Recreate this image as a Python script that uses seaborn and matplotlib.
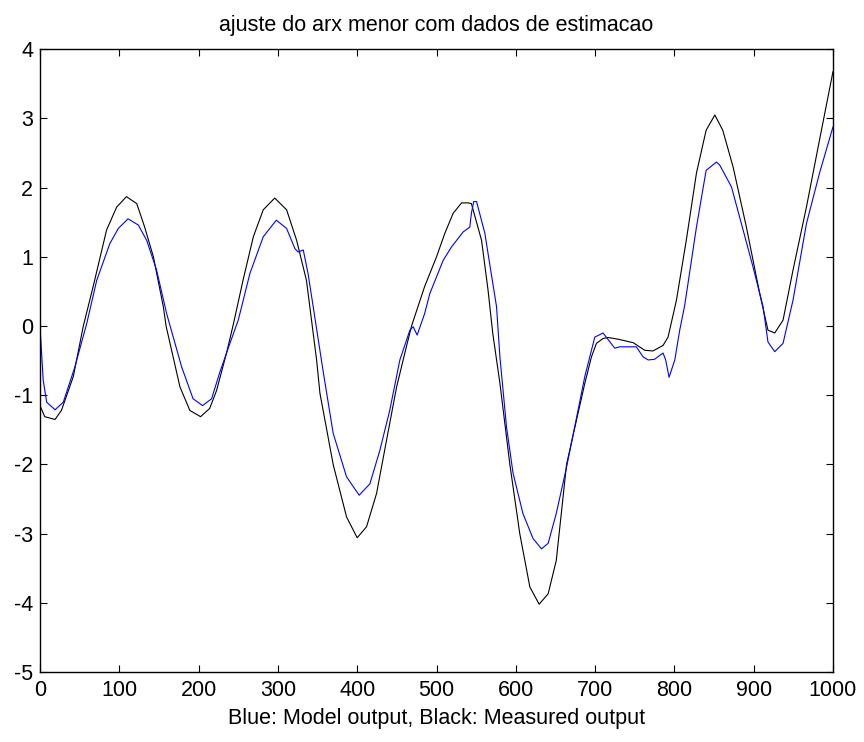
import matplotlib
matplotlib.use("Agg")
import matplotlib.pyplot as plt
import seaborn as sns
import pandas as pd

title = "ajuste do arx menor com dados de estimacao"
xlabel = "Blue: Model output, Black: Measured output"
xticks = [0, 100, 200, 300, 400, 500, 600, 700, 800, 900, 1000]
yticks = [-5, -4, -3, -2, -1, 0, 1, 2, 3, 4]

# Measured output (black)
meas_x = [0, 6, 19, 27, 42, 54.6, 67, 84, 96.7, 109, 122, 132, 143, 155.5, 159,
          176.5, 189, 202.5, 214, 222.7, 235, 243.7, 256, 269, 281.5, 296, 311,
          323.6, 336, 348.8, 353, 369.7, 386.6, 400, 411.8, 424.4, 437, 449.7,
          462, 468.5, 485, 500, 510.5, 521, 531.6, 540, 544, 556.8, 565, 571,
          580, 592.5, 605, 617.7, 629.4, 640.8, 651, 664, 676.5, 687, 695.4,
          701.7, 710, 716.4, 729, 748, 762.6, 773, 785.7, 792, 802.6, 815,
          827.8, 840, 851, 861, 874, 890.8, 907.6, 918, 926.5, 937, 949.6,
          966.5, 983, 1000]
meas_y = [-1.15, -1.31, -1.35, -1.22, -0.73, 0.0, 0.57, 1.39, 1.72, 1.87, 1.77,
          1.43, 1.0, 0.28, 0.0, -0.88, -1.22, -1.31, -1.19, -0.93, -0.40, 0.02,
          0.66, 1.29, 1.68, 1.85, 1.68, 1.24, 0.66, -0.49, -0.97, -2.0, -2.76,
          -3.06, -2.90, -2.42, -1.65, -0.88, -0.30, 0.0, 0.57, 1.0, 1.34, 1.63,
          1.78, 1.78, 1.77, 1.24, 0.52, -0.11, -0.83, -2.0, -3.0, -3.77, -4.02,
          -3.87, -3.39, -2.0, -1.36, -0.83, -0.445, -0.25, -0.18, -0.165, -0.19,
          -0.24, -0.35, -0.36, -0.28, -0.16, 0.375, 1.24, 2.21, 2.83, 3.05,
          2.83, 2.30, 1.43, 0.47, -0.06, -0.10, 0.085, 0.81, 1.72, 2.69, 3.68]

# Model output (blue)
model_x = [0, 4, 8.4, 19, 29.4, 44, 59, 71.5, 88, 98.7, 111, 124, 134.5, 147,
           159.7, 178.6, 193, 205, 216.4, 227, 239.5, 250, 264.7, 281.5, 298,
           311, 321.4, 325.6, 332, 338, 344.5, 357, 369.7, 386.6, 402.5, 416,
           428.6, 441, 453.8, 466.4, 470.6, 475.6, 485, 491.6, 508.4, 519,
           533.6, 542, 544, 547, 550.5, 561, 569, 575.7, 580, 588.3, 596.6,
           609, 621.7, 632.4, 640.8, 651, 664, 676.5, 687, 699.6, 710, 724.8,
           731, 752, 760.5, 767, 775, 785.7, 789, 793.3, 800.5, 806.7, 813,
           827.8, 840, 853, 857, 872, 886.6, 899, 911.8, 918, 926.5, 937,
           949.6, 966.5, 983, 1000]
model_y = [0.0, -0.78, -1.10, -1.21, -1.10, -0.59, 0.04, 0.66, 1.19, 1.41, 1.55,
           1.46, 1.24, 0.81, 0.18, -0.59, -1.05, -1.15, -1.05, -0.66, -0.25,
           0.085, 0.76, 1.29, 1.53, 1.41, 1.12, 1.07, 1.10, 0.76, 0.28, -0.65,
           -1.55, -2.18, -2.445, -2.28, -1.795, -1.22, -0.49, -0.06, -0.01,
           -0.13, 0.18, 0.47, 0.95, 1.145, 1.36, 1.43, 1.63, 1.80, 1.80, 1.34,
           0.76, 0.28, -0.45, -1.46, -2.13, -2.71, -3.07, -3.22, -3.14, -2.71,
           -2.04, -1.33, -0.73, -0.16, -0.10, -0.32, -0.30, -0.30, -0.445,
           -0.49, -0.48, -0.39, -0.49, -0.74, -0.49, -0.06, 0.30, 1.43, 2.25,
           2.37, 2.33, 2.01, 1.39, 0.86, 0.28, -0.23, -0.37, -0.25, 0.375,
           1.48, 2.21, 2.88]

sns.set_style("white")
plt.rcParams['font.family'] = ['Liberation Sans', 'DejaVu Sans']
plt.rcParams['text.color'] = 'black'

df_meas = pd.DataFrame({"x": meas_x, "y": meas_y})
df_model = pd.DataFrame({"x": model_x, "y": model_y})

fig = plt.figure(figsize=(8.64, 7.42), dpi=100)
ax = fig.add_axes([40 / 864, 1 - 672 / 742, (833 - 40) / 864, (672 - 49.3) / 742])

sns.lineplot(data=df_meas, x="x", y="y", ax=ax, color="black", linewidth=0.8,
             estimator=None, sort=False)
sns.lineplot(data=df_model, x="x", y="y", ax=ax, color="#0000ff", linewidth=0.8,
             estimator=None, sort=False)

ax.set_xlim(0, 1000)
ax.set_ylim(-5, 4)
ax.set_xticks(xticks)
ax.set_yticks(yticks)
ax.set_xticklabels([str(t) for t in xticks], fontsize=15.5)
ax.set_yticklabels([str(t) for t in yticks], fontsize=15.5)
ax.tick_params(axis="x", pad=6)
ax.tick_params(axis="y", pad=5)
ax.tick_params(direction="in", length=5, width=0.8, top=True, right=True,
               bottom=True, left=True, colors="black")
for s in ax.spines.values():
    s.set_visible(True)
    s.set_color("black")
    s.set_linewidth(1.0)
ax.set_title(title, fontsize=15.5, pad=13, color="black")
ax.set_xlabel(xlabel, fontsize=15.5, labelpad=5, color="black")
ax.set_ylabel("")

fig.savefig("out.png", dpi=100)
